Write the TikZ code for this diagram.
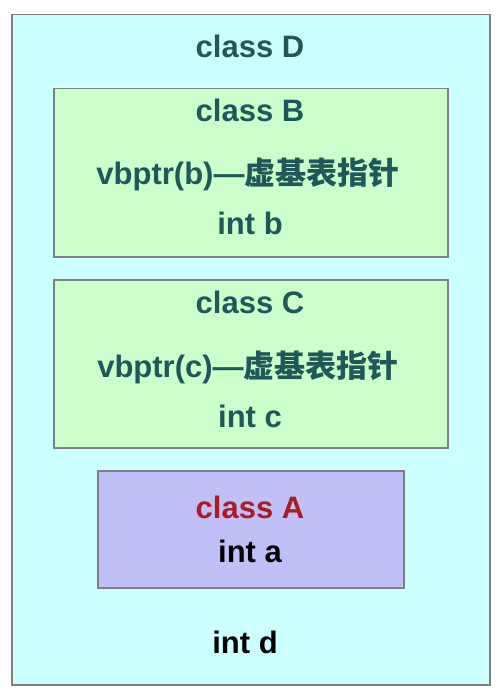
\documentclass[tikz,border=0pt]{standalone}
\usepackage{fontspec}
\setmainfont{Liberation Sans}
\newfontfamily\cjk{Noto Sans CJK SC}
\definecolor{boxline}{RGB}{128,128,128}
\definecolor{fillD}{RGB}{204,255,255}
\definecolor{fillBC}{RGB}{204,255,204}
\definecolor{fillA}{RGB}{192,192,248}
\definecolor{tealtext}{RGB}{30,88,88}
\definecolor{redtext}{RGB}{170,30,35}

\begin{document}
\begin{tikzpicture}[x=1pt,y=-1pt]
        \tikzstyle{every node}+=[inner sep=0pt]
        \tikzstyle{box}=[draw=boxline, line width=1.5pt, anchor=north west]
        \tikzstyle{label}=[anchor=base, font=\fontsize{31}{36}\selectfont\bfseries]
        \useasboundingbox (0,0) rectangle (502,700);
        \node [box, fill=fillD, minimum width=478pt, minimum height=670pt] (boxD) at (11,14) {};
        \node [box, fill=fillBC, minimum width=394pt, minimum height=168pt] (boxB) at (53,88) {};
        \node [box, fill=fillBC, minimum width=394pt, minimum height=168pt] (boxC) at (53,279) {};
        \node [box, fill=fillA, minimum width=306pt, minimum height=117pt] (boxA) at (97,470) {};
        \node [label, text=tealtext] (nameD) at (250,58) {class D};
        \node [label, text=tealtext] (nameB) at (250,122) {class B};
        \node [label, text=tealtext] (ptrB) at (248,185) {vbptr(b)—{\cjk\bfseries 虚基表指针}};
        \node [label, text=tealtext] (intB) at (250,235) {int b};
        \node [label, text=tealtext] (nameC) at (250,313) {class C};
        \node [label, text=tealtext] (ptrC) at (248,377) {vbptr(c)—{\cjk\bfseries 虚基表指针}};
        \node [label, text=tealtext] (intC) at (250,427) {int c};
        \node [label, text=redtext] (nameA) at (250,518) {class A};
        \node [label, text=black] (intA) at (250,562) {int a};
        \node [label, text=black] (intD) at (245,653) {int d};
      \end{tikzpicture}
\end{document}
